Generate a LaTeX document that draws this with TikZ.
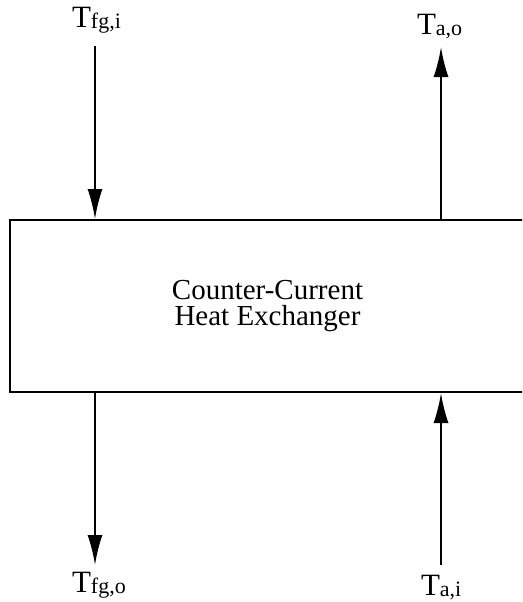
\documentclass[tikz,border=0pt]{standalone}
\usepackage{fontspec}
\setmainfont{Liberation Serif}
\usetikzlibrary{arrows.meta}
\newcommand{\lowsub}[1]{\raisebox{-1pt}{\fontsize{22}{22}\selectfont #1}}

\begin{document}
\begin{tikzpicture}[x=1pt,y=-1pt,line width=2pt,>={Latex[length=30pt,width=15pt]},
    temp/.style={inner sep=0pt,anchor=base west,font=\fontsize{31}{31}\selectfont}]
            \useasboundingbox (0,0) rectangle (522,602);
            \clip (0,0) rectangle (522,602);
            \node[draw,minimum width=515pt,minimum height=172pt,inner sep=0pt,align=center,
                  font=\fontsize{29}{26}\selectfont] (hx) at (267.5,306) {Counter-Current\\Heat Exchanger};
            \node[temp] (Tfgi) at (71,28) {T\lowsub{fg,i}};
            \node[temp] (Tao) at (416,35) {T\lowsub{a,o}};
            \node[temp] (Tfgo) at (71,592) {T\lowsub{fg,o}};
            \node[temp] (Tai) at (420,595) {T\lowsub{a,i}};
            \coordinate (fgin) at (95,46);
            \coordinate (aout) at (441,47);
            \coordinate (fgout) at (95,565);
            \coordinate (ain) at (441,565);
            \draw[->] (fgin) -- (fgin |- hx.north);
            \draw[->] (aout |- hx.north) -- (aout);
            \draw[->] (fgout |- hx.south) -- (fgout);
            \draw[->] (ain) -- (ain |- hx.south);
        \end{tikzpicture}
\end{document}
